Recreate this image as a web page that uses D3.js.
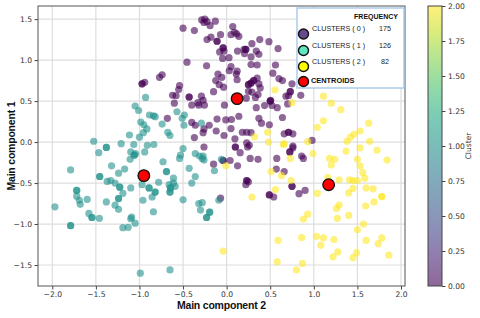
<!DOCTYPE html>
<html><head><meta charset="utf-8">
<script src="https://cdn.jsdelivr.net/npm/d3@7"></script>
<style>body{margin:0;background:#fff}svg{display:block}</style>
</head><body><svg id="c" width="480" height="318"></svg>
<script>
// Cluster 0 (purple)
const c0x=[-0.97,-0.97,-0.94,-0.77,-0.74,-0.286,-0.25,-0.225,-0.26,-0.19,-0.13,-0.50,-0.37,-0.07,0.07,0.09,0.115,0.14,0.05,-0.225,-0.18,-0.11,-0.11,-0.04,-0.04,-0.03,-0.08,0.027,-0.046,0.22,0.22,0.125,0.29,0.38,0.34,0.28,0.37,0.485,0.59,-0.455,-0.23,0.05,0.03,0.12,0.11,0.28,0.35,0.56,0.53,0.60,-0.10,-0.055,-0.125,-0.085,-0.035,0.12,-0.54,-0.55,-0.62,-0.58,-0.43,-0.43,-0.60,-0.29,-0.27,-0.40,-0.32,-0.255,-0.33,-0.15,-0.025,0.25,0.25,0.28,0.28,0.31,0.31,0.35,0.37,0.385,0.25,0.29,0.36,0.225,0.33,0.50,0.50,0.435,0.52,0.58,0.34,-0.68,0.14,-0.11,-0.01,0.055,0.37,0.40,0.49,-0.40,-0.36,-0.20,-0.26,-0.37,-0.27,-0.12,0.05,0.18,0.23,0.28,-0.03,0.095,0.23,0.26,0.64,0.75,0.73,0.73,0.68,0.71,0.85,0.70,0.64,0.71,0.71,0.76,0.66,0.98,0.76,0.2,0.205,0.505,0.86,-0.26,-0.15,-0.04,-0.04,0.04,0.125,0.10,0.10,0.155,0.24,0.27,0.36,0.575,0.57,0.23,0.23,0.25,0.22,-0.07,0.49,0.49,0.54,0.76,0.725,0.725,0.88,0.66,0.75,0.75,0.83,0.90];
const c0y=[0.71,0.71,0.73,0.79,0.82,1.49,1.5,1.47,1.46,1.42,1.475,1.39,1.36,1.31,1.41,1.34,1.32,1.29,1.31,1.25,1.28,1.23,1.23,1.15,1.15,1.11,1.10,1.03,1.02,1.13,1.13,1.11,1.2,1.25,1.11,1.04,1.07,1.225,1.14,0.975,0.93,0.92,0.87,0.865,0.83,0.945,0.94,0.94,0.84,0.775,0.83,0.79,0.75,0.70,0.67,0.76,0.69,0.64,0.57,0.565,0.55,0.55,0.475,0.56,0.51,0.45,0.45,0.45,0.48,0.615,0.45,0.70,0.70,0.72,0.72,0.75,0.75,0.78,0.71,0.66,0.62,0.61,0.58,0.535,0.545,0.50,0.50,0.445,0.445,0.42,0.42,0.29,0.315,0.28,0.27,0.275,0.29,0.23,0.21,0.24,0.205,0.205,0.16,0.055,0.115,0.135,0.165,0.12,0.12,0.115,0.08,0.04,-0.01,-0.04,0.75,0.71,0.615,0.615,0.56,0.565,0.57,0.465,0.30,0.12,0.12,0.10,0.10,0.02,-0.05,1.13,1.08,0.51,-0.17,-0.06,-0.27,-0.225,-0.225,-0.225,-0.29,-0.06,-0.06,-0.13,-0.06,-0.20,-0.21,-0.20,-0.33,-0.47,-0.47,-0.485,-0.52,-0.685,-0.645,-0.645,-0.67,-0.07,-0.12,-0.12,-0.20,-0.36,-0.54,-0.54,-0.63,-0.59];
// Cluster 1 (teal)
const c1x=[-0.93,-1.05,-1.01,-0.885,-0.84,-0.82,-0.985,-0.95,-0.915,-0.955,-0.74,-1.115,-1.0,-1.525,-1.38,-1.38,-1.21,-1.065,-0.91,-0.835,-1.467,-1.10,-1.06,-1.06,-1.045,-0.94,-1.107,-1.79,-1.456,-1.456,-1.32,-1.24,-1.17,-1.37,-1.33,-1.28,-1.226,-1.226,-1.1,-0.97,-0.89,-0.89,-0.78,-0.82,-0.82,-0.855,-0.96,-1.72,-1.72,-1.72,-1.69,-1.68,-1.60,-1.97,-1.38,-1.28,-1.24,-1.24,-1.24,-1.19,-1.58,-1.545,-1.545,-1.46,-1.09,-1.10,-1.05,-1.19,-1.13,-1.79,-1.79,-0.99,-0.84,-0.57,-0.485,-0.51,-0.49,-0.29,-0.675,-0.65,-0.5,-0.73,-0.54,-0.53,-0.36,-0.31,-0.28,-0.27,-0.26,-0.43,-0.69,-0.69,-0.61,-0.66,-0.645,-0.645,-0.65,-0.65,-0.59,-0.61,-0.36,-0.40,-0.5,-0.32,-0.28,-0.30,-0.195,-0.195,-0.23,-0.23,-0.14,-0.09,-0.06,-0.65];
const c1y=[0.545,0.44,0.385,0.33,0.32,0.31,0.245,0.21,0.16,0.115,0.22,0.086,0.06,0.01,-0.065,-0.065,-0.02,-0.03,-0.04,-0.03,-0.13,-0.12,-0.16,-0.16,-0.14,-0.12,-0.21,-0.34,-0.42,-0.42,-0.29,-0.38,-0.33,-0.48,-0.47,-0.5,-0.55,-0.55,-0.56,-0.52,-0.56,-0.56,-0.49,-0.61,-0.61,-0.67,-0.71,-0.59,-0.59,-0.66,-0.71,-0.76,-0.70,-0.79,-0.73,-0.77,-0.82,-0.69,-0.69,-0.625,-0.87,-0.92,-0.92,-0.93,-0.915,-0.935,-0.99,-1.045,-1.04,-1.02,-1.02,-1.6,-0.85,0.37,0.33,0.29,0.205,0.23,0.12,0.08,-0.08,-0.24,-0.20,-0.16,-0.14,-0.17,-0.20,-0.17,-0.22,-0.32,-0.36,-0.36,-0.44,-0.52,-0.56,-0.56,-0.61,-0.61,-0.54,-0.50,-0.42,-0.50,-0.705,-0.75,-0.74,-0.83,-0.855,-0.855,-0.92,-0.92,-0.35,-0.71,-0.21,-1.56];
// Cluster 2 (yellow)
const c2x=[0.555,0.32,0.47,0.48,0.65,0.75,1.11,1.20,1.31,1.11,1.04,1.63,1.53,1.46,1.42,1.38,1.64,0.93,0.66,1.37,-0.01,0.51,0.63,0.56,0.29,0.59,-0.04,0.58,0.73,0.99,1.18,1.24,1.2,1.50,1.53,1.53,1.56,1.585,1.725,1.84,0.74,1.16,1.29,1.41,1.45,1.50,1.45,1.60,1.68,1.78,1.78,1.69,1.595,1.40,1.04,1.29,1.26,1.27,1.40,0.93,0.88,1.57,1.50,0.86,1.03,1.11,1.08,1.23,1.60,1.78,1.74,1.275,1.22,1.49,1.45,1.86,0.87,0.80];
const c2y=[0.635,0.065,0.12,0.0,-0.03,0.48,0.56,0.475,0.395,0.26,0.18,0.23,0.135,0.095,0.06,0.01,0.01,0.005,-0.02,-0.11,-0.29,-0.36,-0.41,-0.58,-0.67,-1.2,-1.33,-1.46,-0.20,-0.14,-0.20,-0.21,-0.28,-0.21,-0.07,-0.29,-0.37,-0.44,-0.10,-0.22,-0.47,-0.43,-0.46,-0.46,-0.47,-0.47,-0.565,-0.56,-0.57,-0.665,-0.665,-0.73,-0.78,-0.62,-0.625,-0.77,-0.81,-0.93,-0.895,-0.88,-0.94,-1.0,-1.07,-1.165,-1.15,-1.17,-1.26,-1.19,-1.2,-1.17,-1.24,-1.34,-1.40,-1.35,-1.41,-1.38,-1.48,-1.56];
// Centroids
const centX=[0.12,-0.95,1.17];
const centY=[0.53,-0.41,-0.52];
// Legend
const legendLabels=["CLUSTERS ( 0 )","CLUSTERS ( 1 )","CLUSTERS ( 2 )"];
const legendCounts=[175,126,82];
const xTicks=[-2.0,-1.5,-1.0,-0.5,0.0,0.5,1.0,1.5,2.0];
const yTicks=[-1.5,-1.0,-0.5,0.0,0.5,1.0,1.5];
const cbTicks=[0,0.25,0.5,0.75,1.0,1.25,1.5,1.75,2.0];

const svg=d3.select("#c");
const L=38,R=405,T=6,B=286;
const x=d3.scaleLinear().domain([-2.164,2.046]).range([L,R]);
const y=d3.scaleLinear().domain([-1.756,1.66]).range([B,T]);
const cmap=d3.interpolateViridis;
const tickFont="DejaVu Sans";

// grid
svg.append("g").selectAll("line").data(xTicks).join("line")
 .attr("x1",d=>x(d)).attr("x2",d=>x(d)).attr("y1",T).attr("y2",B)
 .attr("stroke","#dedede").attr("stroke-width",1.2);
svg.append("g").selectAll("line").data(yTicks).join("line")
 .attr("y1",d=>y(d)).attr("y2",d=>y(d)).attr("x1",L).attr("x2",R)
 .attr("stroke","#dedede").attr("stroke-width",1.2);

// points
const clusters=[[c0x,c0y,0],[c1x,c1y,0.5],[c2x,c2y,1]];
const pts=svg.append("g");
clusters.forEach(([xs,ys,t])=>{
  pts.selectAll(null).data(xs.map((v,i)=>[v,ys[i]])).join("circle")
   .attr("cx",d=>x(d[0])).attr("cy",d=>y(d[1])).attr("r",3.6)
   .attr("fill",cmap(t)).attr("fill-opacity",0.6);
});
// centroids
svg.append("g").selectAll("circle").data(centX.map((v,i)=>[v,centY[i]])).join("circle")
 .attr("cx",d=>x(d[0])).attr("cy",d=>y(d[1])).attr("r",5.8)
 .attr("fill","#ff0000").attr("stroke","#111").attr("stroke-width",1.3);

// axes
const xa=svg.append("g").attr("transform",`translate(0,${B})`)
 .call(d3.axisBottom(x).tickValues(xTicks).tickFormat(d3.format(".1f")).tickSize(3.5).tickPadding(2.5));
const ya=svg.append("g").attr("transform",`translate(${L},0)`)
 .call(d3.axisLeft(y).tickValues(yTicks).tickFormat(d3.format(".1f")).tickSize(3.5).tickPadding(2.5));
[xa,ya].forEach(a=>{a.select(".domain").remove();
 a.selectAll("text").attr("font-family",tickFont).attr("font-size",7.6).attr("fill","#333");
 a.selectAll("line").attr("stroke","#444");});
svg.append("rect").attr("x",L).attr("y",T).attr("width",R-L).attr("height",B-T)
 .attr("fill","none").attr("stroke","#555").attr("stroke-width",1);

// axis labels
svg.append("text").attr("x",(L+R)/2).attr("y",309).attr("text-anchor","middle")
 .attr("font-family","Liberation Sans").attr("font-weight","bold").attr("font-size",10.5)
 .attr("textLength",89).attr("fill","#111").text("Main component 2");
svg.append("text").attr("transform",`translate(15,${(T+B)/2}) rotate(-90)`).attr("text-anchor","middle")
 .attr("font-family","Liberation Sans").attr("font-weight","bold").attr("font-size",10.5)
 .attr("textLength",89).attr("fill","#111").text("Main component 1");

// legend
const lg=svg.append("g");
lg.append("rect").attr("x",297).attr("y",8).attr("width",107).attr("height",80)
 .attr("fill","#fff").attr("stroke","#9fc5e8").attr("stroke-width",1.3);
lg.append("text").attr("x",398).attr("y",18.5).attr("text-anchor","end")
 .attr("font-family","Liberation Sans").attr("font-weight","bold").attr("font-size",7)
 .attr("fill","#111").text("FREQUENCY");
const legCols=["#664a8e","#5ee8c2","#ffff00"];
const rowY=[34,50.5,66.5];
legendLabels.forEach((lab,i)=>{
  lg.append("circle").attr("cx",303.5).attr("cy",rowY[i]).attr("r",5)
   .attr("fill",legCols[i]).attr("stroke","#111").attr("stroke-width",1.4);
  lg.append("text").attr("x",312).attr("y",rowY[i]-3).attr("font-family","Liberation Sans")
   .attr("font-size",7.2).attr("fill","#222").text(lab);
  lg.append("text").attr("x",385).attr("y",rowY[i]-3).attr("text-anchor","middle").attr("font-family","Liberation Sans")
   .attr("font-size",7.2).attr("fill","#222").text(legendCounts[i]);
});
lg.append("circle").attr("cx",303.5).attr("cy",81.5).attr("r",5)
 .attr("fill","#ff0000").attr("stroke","#111").attr("stroke-width",1.4);
lg.append("text").attr("x",311).attr("y",83).attr("font-family","Liberation Sans").attr("font-weight","bold")
 .attr("font-size",7.4).attr("fill","#111").text("CENTROIDS");

// colorbar
const cbX=428,cbW=14;
const cb=d3.scaleLinear().domain([0,2]).range([B,T]);
const defs=svg.append("defs");
const grad=defs.append("linearGradient").attr("id","vg").attr("x1",0).attr("y1",1).attr("x2",0).attr("y2",0);
d3.range(0,1.0001,0.1).forEach(t=>grad.append("stop").attr("offset",t).attr("stop-color",cmap(t)));
svg.append("rect").attr("x",cbX).attr("y",T).attr("width",cbW).attr("height",B-T)
 .attr("fill","url(#vg)").attr("fill-opacity",0.6);
svg.append("rect").attr("x",cbX).attr("y",T).attr("width",cbW).attr("height",B-T)
 .attr("fill","none").attr("stroke","#444").attr("stroke-width",1);
const ca=svg.append("g").attr("transform",`translate(${cbX+cbW},0)`)
 .call(d3.axisRight(cb).tickValues(cbTicks).tickFormat(d3.format(".2f")).tickSize(3.5).tickPadding(2.5));
ca.select(".domain").remove();
ca.selectAll("text").attr("font-family",tickFont).attr("font-size",7.6).attr("fill","#333");
ca.selectAll("line").attr("stroke","#444");
svg.append("text").attr("transform",`translate(471,${(T+B)/2}) rotate(-90)`).attr("text-anchor","middle")
 .attr("font-family",tickFont).attr("font-size",7.6).attr("fill","#333").text("Cluster");
</script></body></html>
